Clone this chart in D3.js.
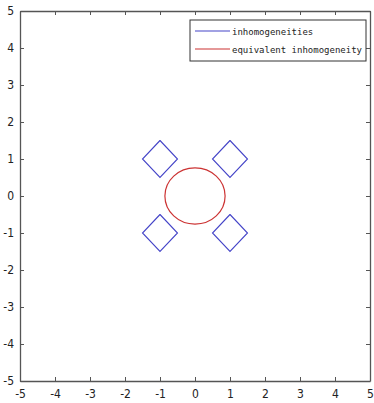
<!DOCTYPE html>
<html>
<head>
<meta charset="utf-8">
<script src="https://cdn.jsdelivr.net/npm/d3@7"></script>
<style>
  body { margin: 0; background: #fff; }
  svg { display: block; }
  .tick text { font-family: "DejaVu Sans", sans-serif; font-stretch: condensed; font-size: 12px; fill: #222; }
  .legend text { font-family: "DejaVu Sans Mono", monospace; font-size: 9px; fill: #222; }
</style>
</head>
<body>
<svg></svg>
<script>
'use strict';

// tick values on both axes
var tickValues = [-5, -4, -3, -2, -1, 0, 1, 2, 3, 4, 5];
// centres of the four square inhomogeneities, half diagonal 0.5
var diamondCentres = [[-1, 1], [1, 1], [-1, -1], [1, -1]];
var diamondHalf = 0.5;
// equivalent inhomogeneity ellipse
var ellipseCentre = [0, 0];
var ellipseRadii = [0.86, 0.76];
var legendLabels = ['inhomogeneities', 'equivalent inhomogeneity'];
var legendColors = ['#4444c8', '#cc3333'];

var canvasWidth = 374;
var canvasHeight = 403;
var margin = { top: 11, right: 4, bottom: 22, left: 20 };
var width = 370 - margin.left;
var height = 381 - margin.top;

var svg = d3.select('svg')
  .attr('width', canvasWidth)
  .attr('height', canvasHeight);

var g = svg.append('g')
  .attr('transform', 'translate(' + margin.left + ',' + margin.top + ')');

var xScale = d3.scaleLinear().domain([-5, 5]).range([0, width]);
var yScale = d3.scaleLinear().domain([-5, 5]).range([height, 0]);

// axes, matlab style box with inward ticks
function styleAxis(sel) {
  sel.select('.domain').attr('stroke', '#555').attr('stroke-width', 1.3);
  sel.selectAll('.tick line').attr('stroke', '#555');
}
var fmt = d => String(d);
g.append('g')
  .attr('transform', 'translate(0,' + height + ')')
  .call(d3.axisBottom(xScale).tickValues(tickValues).tickFormat(fmt).tickSizeInner(-4).tickSizeOuter(0).tickPadding(8))
  .call(styleAxis);
g.append('g')
  .call(d3.axisLeft(yScale).tickValues(tickValues).tickFormat(fmt).tickSizeInner(-4).tickSizeOuter(0).tickPadding(6))
  .call(styleAxis);
g.append('g')
  .call(d3.axisTop(xScale).tickValues(tickValues).tickSizeInner(-4).tickSizeOuter(0).tickFormat(''))
  .call(styleAxis);
g.append('g')
  .attr('transform', 'translate(' + width + ',0)')
  .call(d3.axisRight(yScale).tickValues(tickValues).tickSizeInner(-4).tickSizeOuter(0).tickFormat(''))
  .call(styleAxis);

// diamonds
var line = d3.line().x(d => xScale(d[0])).y(d => yScale(d[1]));
diamondCentres.forEach(function(c) {
  var pts = [[c[0], c[1] + diamondHalf], [c[0] + diamondHalf, c[1]],
             [c[0], c[1] - diamondHalf], [c[0] - diamondHalf, c[1]],
             [c[0], c[1] + diamondHalf]];
  g.append('path')
    .attr('d', line(pts))
    .attr('fill', 'none')
    .attr('stroke', legendColors[0])
    .attr('stroke-width', 1.1);
});

// ellipse
g.append('ellipse')
  .attr('cx', xScale(ellipseCentre[0]))
  .attr('cy', yScale(ellipseCentre[1]))
  .attr('rx', xScale(ellipseRadii[0]) - xScale(0))
  .attr('ry', yScale(0) - yScale(ellipseRadii[1]))
  .attr('fill', 'none')
  .attr('stroke', legendColors[1])
  .attr('stroke-width', 1.2);

// legend
var legend = svg.append('g').attr('class', 'legend')
  .attr('transform', 'translate(190,20)');
legend.append('rect')
  .attr('width', 176).attr('height', 41)
  .attr('fill', '#fff').attr('stroke', '#333').attr('stroke-width', 1);
legendLabels.forEach(function(lab, i) {
  var y = 11 + i * 18;
  legend.append('line')
    .attr('x1', 5).attr('x2', 40).attr('y1', y).attr('y2', y)
    .attr('stroke', legendColors[i]).attr('stroke-width', 1.2);
  legend.append('text')
    .attr('x', 42).attr('y', y + 3.5)
    .text(lab);
});
</script>
</body>
</html>
